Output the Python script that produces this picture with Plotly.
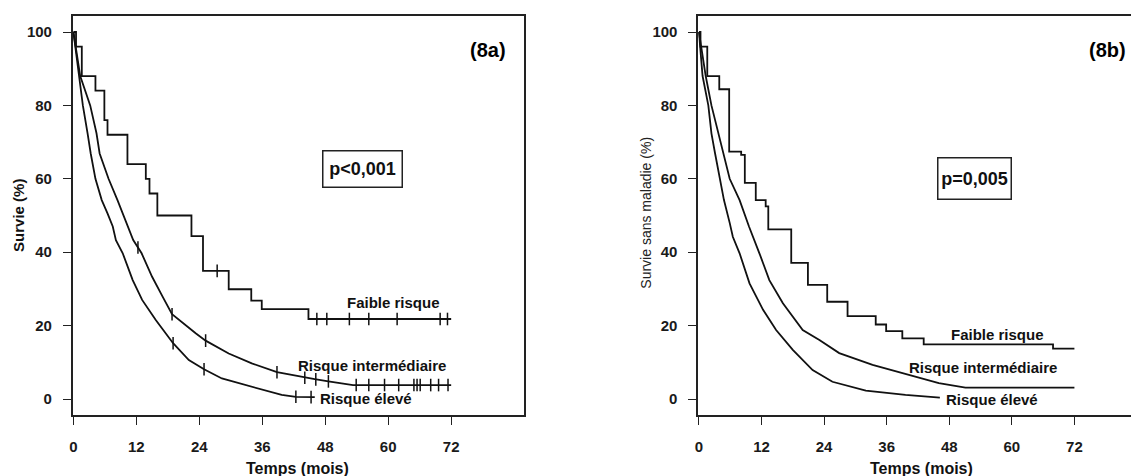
import numpy as np
import plotly.graph_objects as go

# ---------------- data (8a) : survie globale ----------------
faible_a_t = [0, 0.5, 1.6, 4.2, 5.9, 6.5, 10.3, 13.8, 14.5, 16.0, 22.5, 24.7, 29.6, 33.9, 35.9, 44.8, 72]
faible_a_s = [100, 96, 88, 84, 76, 72, 64, 60, 56, 50, 44.4, 34.9, 29.9, 26.8, 24.5, 21.8, 21.8]
faible_a_cens = [27.4, 46.4, 48.3, 52.6, 56.3, 61.7, 69.9, 71.3]

inter_a_t = [0, 0.5, 1.3, 3.2, 4.4, 5.0, 6.7, 8.4, 9.9, 11.4, 13.0, 15.0, 17.0, 18.8, 23.3, 25.2,
             29.6, 34.0, 38.8, 44.1, 46.0, 48.6, 53.3, 72]
inter_a_s = [100, 95, 88, 80, 72.4, 66.9, 60, 54.2, 48.8, 43.3, 39.7, 33.3, 27.9, 23.1, 17.9, 15.9,
             12.4, 9.7, 7.3, 5.8, 5.4, 4.8, 3.8, 3.8]
inter_a_cens = [12.3, 18.8, 25.2, 38.8, 44.1, 46.2, 48.6, 53.9, 56.3, 59.3, 62.0, 64.9, 65.5, 66.1,
                68.1, 69.6, 71.4]

high_a_t = [0, 0.5, 1.0, 1.8, 2.7, 3.3, 4.2, 5.4, 6.5, 7.5, 8.1, 9.4, 11.3, 13.1, 15.7, 19.0, 22.0,
            24.9, 28.3, 32.8, 36.0, 39.7, 42.4, 46.0]
high_a_s = [100, 94, 88, 80, 72.4, 66.9, 60, 54.2, 50.6, 47, 43.3, 39.7, 32.4, 27, 21.5, 15.2, 10.6,
            8.1, 5.6, 3.8, 2.5, 1.1, 0.6, 0.5]
high_a_cens = [19.0, 24.9, 42.4, 45.3]

# ---------------- data (8b) : survie sans maladie ----------------
faible_b_t = [0, 0.3, 1.6, 3.9, 5.8, 8.1, 8.8, 10.9, 12.8, 13.3, 17.7, 20.9, 24.6, 28.5, 33.9, 35.9,
              39.0, 43.1, 67.9, 72]
faible_b_s = [100, 96, 88, 84.4, 67.4, 66.5, 58.9, 54.2, 52.5, 46.2, 37.1, 31.1, 26.5, 22.6, 20.3,
              18.5, 16.5, 14.9, 13.7, 13.7]

inter_b_t = [0, 0.5, 1.3, 2.4, 3.7, 4.6, 5.9, 7.8, 9.6, 11.6, 13.5, 16.1, 19.9, 23.1, 26.9, 33.3,
             39.6, 46.0, 51.1, 72]
inter_b_s = [100, 95, 88, 80, 72.4, 66.9, 60, 54.2, 47, 39.7, 32.4, 26.1, 18.8, 16.1, 12.5, 9.3,
             6.8, 4.3, 3.1, 3.1]

high_b_t = [0, 0.3, 0.7, 1.8, 2.4, 3.1, 4.0, 4.8, 5.9, 6.5, 7.8, 9.7, 12.3, 14.8, 18.0, 21.8, 25.6,
            32.0, 39.6, 46.2]
high_b_s = [100, 94, 88, 80, 72.4, 66.9, 60, 54.2, 48, 44.2, 39.7, 31.5, 24.3, 18.8, 13.4, 7.9, 4.7,
            2.3, 1.1, 0.4]

x_ticks = [0, 12, 24, 36, 48, 60, 72]
y_ticks = [0, 20, 40, 60, 80, 100]
labels = ["Faible risque", "Risque intermédiaire", "Risque élevé"]

FONT = "Liberation Sans, Arial, sans-serif"
INK = "#111111"

# page has an 8px body margin: figure is sized so it ends at the window edge
OFF = 8
W, H = 1139 - OFF, 476 - OFF


def px(x):
    return (x - OFF) / W


def py(y):
    return 1 - (y - OFF) / H


fig = go.Figure()


def step_value(t, ts, ss):
    idx = np.searchsorted(ts, t, side="right") - 1
    return ss[max(idx, 0)]


def add_curve(ts, ss, xa, ya, shape):
    fig.add_trace(go.Scatter(x=ts, y=ss, mode="lines", line=dict(color=INK, width=1.8, shape=shape),
                             xaxis=xa, yaxis=ya, showlegend=False, hoverinfo="skip"))


def add_cens(cts, ys, xa, ya):
    fig.add_trace(go.Scatter(x=cts, y=ys, mode="markers",
                             marker=dict(symbol="line-ns", size=9, color=INK,
                                         line=dict(color=INK, width=1.5)),
                             xaxis=xa, yaxis=ya, showlegend=False, hoverinfo="skip"))


# panel a
add_curve(faible_a_t, faible_a_s, "x", "y", "hv")
add_curve(inter_a_t, inter_a_s, "x", "y", "linear")
add_curve(high_a_t, high_a_s, "x", "y", "linear")
add_cens(faible_a_cens, [step_value(t, faible_a_t, faible_a_s) for t in faible_a_cens], "x", "y")
add_cens(inter_a_cens, list(np.interp(inter_a_cens, inter_a_t, inter_a_s)), "x", "y")
add_cens(high_a_cens, list(np.interp(high_a_cens, high_a_t, high_a_s)), "x", "y")

# panel b
add_curve(faible_b_t, faible_b_s, "x2", "y2", "hv")
add_curve(inter_b_t, inter_b_s, "x2", "y2", "linear")
add_curve(high_b_t, high_b_s, "x2", "y2", "linear")

ax_common = dict(showgrid=False, zeroline=False, showline=True, linecolor="#222222", linewidth=1.6,
                 mirror=True, ticks="outside", ticklen=8, tickwidth=1.4, tickcolor="#222222",
                 tickfont=dict(family=FONT, size=15, color="#1a1a1a", weight="bold"))

ydom = [py(415), py(16)]
fig.update_layout(
    width=W, height=H, margin=dict(l=0, r=0, t=0, b=0),
    paper_bgcolor="white", plot_bgcolor="white", showlegend=False,
    xaxis=dict(domain=[px(70), px(523)], range=[-0.13, 85.83], tickvals=x_ticks,
               ticklabelstandoff=9, anchor="y", **ax_common),
    yaxis=dict(domain=ydom, range=[-4.36, 104.36], tickvals=y_ticks,
               ticklabelstandoff=8, anchor="x", **ax_common),
    xaxis2=dict(domain=[px(698.3), 1.0], range=[-0.13, 84.0], tickvals=x_ticks,
                ticklabelstandoff=9, anchor="y2", **ax_common),
    yaxis2=dict(domain=ydom, range=[-4.36, 104.36], tickvals=y_ticks,
                ticklabelstandoff=8, anchor="x2", **ax_common),
)

ann = []
lab_font = dict(family=FONT, size=15, color=INK, weight="bold")
# curve labels panel a
for txt, x, y in zip(labels, [51.7, 42.4, 46.7], [26.2, 9.1, 0.1]):
    ann.append(dict(text=txt, x=x, y=y, xref="x", yref="y", xanchor="left", yanchor="middle",
                    showarrow=False, font=lab_font))
# curve labels panel b
for txt, x, y in zip(labels, [47.9, 39.9, 46.9], [17.5, 8.7, 0.0]):
    ann.append(dict(text=txt, x=x, y=y, xref="x2", yref="y2", xanchor="left", yanchor="middle",
                    showarrow=False, font=lab_font))

# p-value boxes
pfont = dict(family=FONT, size=18, color=INK, weight="bold")
ann.append(dict(text="p<0,001", x=55.1, y=62.8, xref="x", yref="y", showarrow=False, font=pfont,
                xanchor="center", yanchor="middle",
                bordercolor="#222222", borderwidth=1.5, borderpad=2, bgcolor="white", width=74, height=31))
ann.append(dict(text="p=0,005", x=52.9, y=60.0, xref="x2", yref="y2", showarrow=False, font=pfont,
                xanchor="center", yanchor="middle",
                bordercolor="#222222", borderwidth=1.5, borderpad=2, bgcolor="white", width=68, height=36))


def paper_text(text, x, y, font, angle=0):
    ann.append(dict(text=text, x=px(x), y=py(y), xref="paper", yref="paper", xanchor="center",
                    yanchor="middle", textangle=angle, showarrow=False, font=font))


# panel tags
tfont = dict(family=FONT, size=20, color="#000000", weight="bold")
paper_text("(8a)", 487.5, 50, tfont)
paper_text("(8b)", 1109, 50, tfont)

# axis titles
xt_font = dict(family=FONT, size=16, color=INK, weight="bold")
paper_text("Temps (mois)", 296, 468, xt_font)
paper_text("Temps (mois)", 923, 468, xt_font)
paper_text("Survie (%)", 15, 215, dict(family=FONT, size=15, color=INK, weight="bold"), -90)
paper_text("Survie sans maladie (%)", 645, 212.5, dict(family=FONT, size=14, color="#222222"), -90)

fig.update_layout(annotations=ann)
fig.write_html("out.html")
